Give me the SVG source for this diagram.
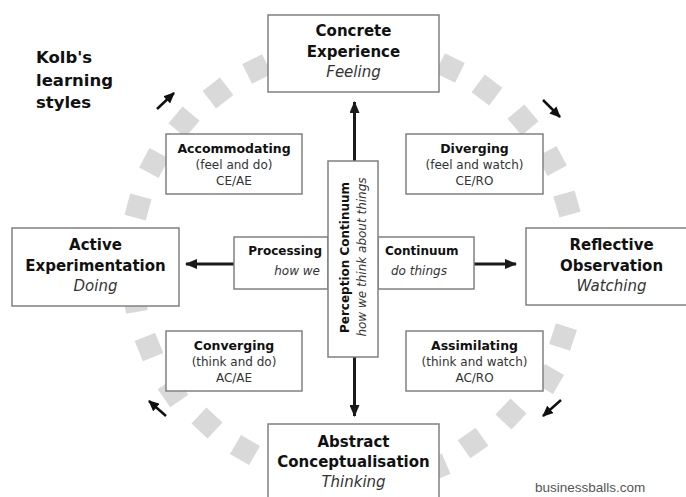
<svg xmlns="http://www.w3.org/2000/svg" width="686" height="497" viewBox="0 0 686 497">
<style>
.sq{fill:#d9d9d9}
.box{fill:#fff;stroke:#808080;stroke-width:1.5}
text{font-family:"DejaVu Sans",Verdana,sans-serif;fill:#111}
.big{font-size:15px;font-weight:bold;text-anchor:middle}
.bigi{font-size:15px;font-style:italic;text-anchor:middle;fill:#333}
.sb{font-size:12.5px;font-weight:bold;text-anchor:middle}
.sr{font-size:12px;text-anchor:middle;fill:#333}
.cb{font-size:12px;font-weight:bold}
.ci{font-size:12px;font-style:italic;fill:#333}
.main{stroke:#1a1a1a;stroke-width:3;fill:none}
.small{stroke:#111;stroke-width:2.5;fill:none}
</style>
<defs>
<marker id="ah" viewBox="0 0 12 10" refX="11" refY="5" markerWidth="12" markerHeight="10" markerUnits="userSpaceOnUse" orient="auto">
<path d="M0,0 L12,5 L0,10 z" fill="#1a1a1a"/>
</marker>
<marker id="sh" viewBox="0 0 11 10" refX="10" refY="5" markerWidth="11" markerHeight="10" markerUnits="userSpaceOnUse" orient="auto">
<path d="M0,0 L11,5 L0,10 z" fill="#111"/>
</marker>
</defs>
<rect width="686" height="497" fill="#fff"/>
<g id="cycle">
<rect class="sq" x="-11" y="-11" width="22" height="22" transform="translate(257,69) rotate(244)"/>
<rect class="sq" x="-11" y="-11" width="22" height="22" transform="translate(218,93) rotate(232)"/>
<rect class="sq" x="-11" y="-11" width="22" height="22" transform="translate(184,122) rotate(220)"/>
<rect class="sq" x="-11" y="-11" width="22" height="22" transform="translate(154,163) rotate(208)"/>
<rect class="sq" x="-11" y="-11" width="22" height="22" transform="translate(138,207) rotate(195)"/>
<rect class="sq" x="-11" y="-11" width="22" height="22" transform="translate(135,301) rotate(170)"/>
<rect class="sq" x="-11" y="-11" width="22" height="22" transform="translate(149,347) rotate(158)"/>
<rect class="sq" x="-11" y="-11" width="22" height="22" transform="translate(173,392) rotate(145)"/>
<rect class="sq" x="-11" y="-11" width="22" height="22" transform="translate(207,423) rotate(133)"/>
<rect class="sq" x="-11" y="-11" width="22" height="22" transform="translate(245,450) rotate(120)"/>
<rect class="sq" x="-11" y="-11" width="22" height="22" transform="translate(450,68) rotate(296)"/>
<rect class="sq" x="-11" y="-11" width="22" height="22" transform="translate(487,90) rotate(307)"/>
<rect class="sq" x="-11" y="-11" width="22" height="22" transform="translate(523,120) rotate(320)"/>
<rect class="sq" x="-11" y="-11" width="22" height="22" transform="translate(552,161) rotate(332)"/>
<rect class="sq" x="-11" y="-11" width="22" height="22" transform="translate(567,204) rotate(344)"/>
<rect class="sq" x="-11" y="-11" width="22" height="22" transform="translate(563,337) rotate(18)"/>
<rect class="sq" x="-11" y="-11" width="22" height="22" transform="translate(549,379) rotate(30)"/>
<rect class="sq" x="-11" y="-11" width="22" height="22" transform="translate(511,414) rotate(43)"/>
<rect class="sq" x="-11" y="-11" width="22" height="22" transform="translate(473,443) rotate(55)"/>
<rect class="sq" x="-11" y="-11" width="22" height="22" transform="translate(436,468) rotate(67)"/>
</g>
<g id="connectors">
<line class="main" x1="354.5" y1="161" x2="354.5" y2="102" marker-end="url(#ah)"/>
<line class="main" x1="354.5" y1="357" x2="354.5" y2="416" marker-end="url(#ah)"/>
<line class="main" x1="234" y1="264" x2="186" y2="264" marker-end="url(#ah)"/>
<line class="main" x1="474" y1="264" x2="516" y2="264" marker-end="url(#ah)"/>
<line class="small" x1="157" y1="109" x2="174" y2="93" marker-end="url(#sh)"/>
<line class="small" x1="543" y1="100" x2="560" y2="117" marker-end="url(#sh)"/>
<line class="small" x1="561" y1="400" x2="543" y2="416" marker-end="url(#sh)"/>
<line class="small" x1="166" y1="416" x2="149" y2="401" marker-end="url(#sh)"/>
</g>
<g id="title">
<text x="36" y="63" style="font-size:16.5px;font-weight:bold">Kolb's</text>
<text x="36" y="86" style="font-size:16.5px;font-weight:bold">learning</text>
<text x="36" y="108" style="font-size:16.5px;font-weight:bold">styles</text>
</g>
<g id="concrete">
<rect class="box" x="268" y="15" width="171" height="77"/>
<text class="big" x="353.5" y="36">Concrete</text>
<text class="big" x="353.5" y="57">Experience</text>
<text class="bigi" x="353.5" y="77">Feeling</text>
</g>
<g id="abstract">
<rect class="box" x="268" y="424" width="171" height="80"/>
<text class="big" x="353.5" y="447">Abstract</text>
<text class="big" x="353.5" y="467">Conceptualisation</text>
<text class="bigi" x="353.5" y="487">Thinking</text>
</g>
<g id="active">
<rect class="box" x="12" y="228" width="167" height="78"/>
<text class="big" x="95.5" y="250">Active</text>
<text class="big" x="95.5" y="271">Experimentation</text>
<text class="bigi" x="95.5" y="291">Doing</text>
</g>
<g id="reflective">
<rect class="box" x="526" y="228" width="170" height="77"/>
<text class="big" x="611.5" y="250">Reflective</text>
<text class="big" x="611.5" y="271">Observation</text>
<text class="bigi" x="611.5" y="291">Watching</text>
</g>
<g id="accommodating">
<rect class="box" x="166" y="134" width="136" height="60"/>
<text class="sb" x="234" y="153">Accommodating</text>
<text class="sr" x="234" y="169">(feel and do)</text>
<text class="sr" x="234" y="185">CE/AE</text>
</g>
<g id="diverging">
<rect class="box" x="406" y="134" width="137" height="60"/>
<text class="sb" x="474.5" y="153">Diverging</text>
<text class="sr" x="474.5" y="169">(feel and watch)</text>
<text class="sr" x="474.5" y="185">CE/RO</text>
</g>
<g id="converging">
<rect class="box" x="166" y="331" width="136" height="60"/>
<text class="sb" x="234" y="350">Converging</text>
<text class="sr" x="234" y="366">(think and do)</text>
<text class="sr" x="234" y="382">AC/AE</text>
</g>
<g id="assimilating">
<rect class="box" x="406" y="331" width="137" height="60"/>
<text class="sb" x="474.5" y="350">Assimilating</text>
<text class="sr" x="474.5" y="366">(think and watch)</text>
<text class="sr" x="474.5" y="382">AC/RO</text>
</g>
<g id="processing">
<rect class="box" x="234" y="237" width="94" height="52"/>
<text class="cb" x="322" y="255" text-anchor="end">Processing</text>
<text class="ci" x="320" y="275" text-anchor="end">how we</text>
</g>
<g id="continuum">
<rect class="box" x="378" y="237" width="96" height="52"/>
<text class="cb" x="385" y="255">Continuum</text>
<text class="ci" x="391" y="275">do things</text>
</g>
<g id="perception">
<rect class="box" x="328" y="161" width="50" height="196"/>
<text class="cb" text-anchor="middle" transform="translate(348.5,257.5) rotate(-90)">Perception Continuum</text>
<text class="ci" text-anchor="middle" transform="translate(365.5,257) rotate(-90)">how we think about things</text>
</g>
<text x="535" y="492" style="font-family:'Liberation Sans',Arial,sans-serif;font-size:13.5px;fill:#555">businessballs.com</text>
</svg>
